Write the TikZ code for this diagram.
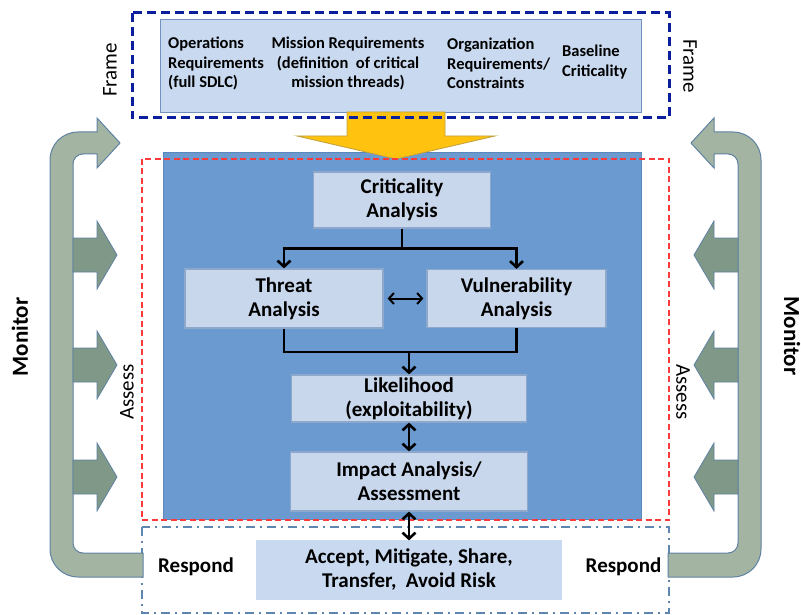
\documentclass[tikz,border=0pt]{standalone}
\usepackage{fontspec}
\setmainfont{Carlito}
\usetikzlibrary{arrows.meta}

\definecolor{corefill}{HTML}{6A9AD0}
\definecolor{coreline}{HTML}{5B87BC}
\definecolor{boxfill}{HTML}{C8D7EB}
\definecolor{boxline}{HTML}{8EA8CC}
\definecolor{reqfill}{HTML}{C9DAF0}
\definecolor{reqline}{HTML}{7391BE}
\definecolor{framedash}{HTML}{0A1E9E}
\definecolor{assessdash}{HTML}{FF3A3A}
\definecolor{responddash}{HTML}{5F86AE}
\definecolor{loopfill}{HTML}{A3B4A2}
\definecolor{loopline}{HTML}{5F82A2}
\definecolor{feedfill}{HTML}{7F9887}
\definecolor{gold}{HTML}{FFC20E}
\definecolor{goldline}{HTML}{C0A040}

\tikzset{
  monitorarrow/.pic={
    % big U-turn arrow
    \draw[fill=loopfill, draw=loopline, line width=1pt]
      (143,577) -- (78,577) .. controls (62.5,577) and (50,564.5) .. (50,549)
      -- (50,160) .. controls (50,144.5) and (62.5,132) .. (78,132)
      -- (97,132) -- (97,118) -- (120,143) -- (97,168) -- (97,154)
      -- (83,154) .. controls (77.5,154) and (73,158.5) .. (73,164)
      -- (73,543) .. controls (73,548.5) and (77.5,553) .. (83,553)
      -- (143,553) -- cycle;
    % feed arrows
    \foreach \c in {255,365,477}
      \draw[fill=feedfill, draw=loopline, line width=0.8pt]
        (73,\c-17) -- (97,\c-17) -- (97,\c-34) -- (117,\c)
        -- (97,\c+34) -- (97,\c+17) -- (73,\c+17) -- cycle;
  }
}

\begin{document}
\begin{tikzpicture}[x=1pt,y=-1pt,
  every node/.style={inner sep=0pt, text=black},
  stage/.style={draw=boxline, fill=boxfill, line width=1.2pt, align=center,
    font=\fontsize{21}{24}\selectfont\bfseries},
  req/.style={align=left, font=\fontsize{16.5}{19.5}\selectfont\bfseries},
  sidelabel/.style={font=\fontsize{21}{24}\selectfont},
  boldlabel/.style={font=\fontsize{21}{24}\selectfont\bfseries},
  flow/.style={line width=2.8pt, -{Straight Barb[length=6pt,width=13pt,line width=2.6pt]}},
  both/.style={line width=2.8pt, {Straight Barb[length=6pt,width=13pt,line width=2.6pt]}-{Straight Barb[length=6pt,width=13pt,line width=2.6pt]}},
  thin both/.style={line width=2pt, {Straight Barb[length=5pt,width=11pt,line width=2pt]}-{Straight Barb[length=5pt,width=11pt,line width=2pt]}}]
\useasboundingbox (0,0) rectangle (801,615);

% frame
\node[draw=reqline, fill=reqfill, line width=1pt, minimum width=481pt, minimum height=93pt] (reqbox) at (400.5,66.5) {};
\node[req, anchor=west] (ops) at (168,63.5) {Operations\\Requirements\\(full SDLC)};
\node[req, align=center] (mission) at (348,63.5) {Mission Requirements\\(definition\ \ of critical\\mission threads)};
\node[req, anchor=west] (org) at (447,63.5) {Organization\\Requirements/\\Constraints};
\node[req, anchor=west] (baseline) at (562,62) {Baseline\\Criticality};

% assess
\node[fill=corefill, draw=coreline, line width=0.8pt, minimum width=478pt, minimum height=367pt] (core) at (402,335.5) {};
\draw[fill=gold, draw=goldline, line width=0.8pt]
  (347,112) -- (445,112) -- (445,136) -- (495,136) -- (396,159) -- (297,136) -- (347,136) -- cycle;
\draw[framedash, line width=3pt, dash pattern=on 9pt off 5pt] (132,13) rectangle (669,118);
\draw[assessdash, line width=2pt, dash pattern=on 6pt off 3.5pt] (142,159) rectangle (669,520);
\draw[responddash, line width=2pt, dash pattern=on 9pt off 5pt on 2pt off 5pt] (142,527) rectangle (669,613);

\node[stage, minimum width=177pt, minimum height=56pt] (crit) at (402,200) {Criticality\\Analysis};
\node[stage, minimum width=198pt, minimum height=59pt] (threat) at (284,298.5) {Threat\\Analysis};
\node[stage, minimum width=179pt, minimum height=58pt] (vuln) at (516.5,298.5) {Vulnerability\\Analysis};
\node[stage, minimum width=235pt, minimum height=47pt] (lik) at (409,398.5) {Likelihood\\(exploitability)};
\node[stage, minimum width=237pt, minimum height=59pt] (impact) at (409,481.5) {Impact Analysis/\\Assessment};
\node[stage, draw=reqfill, fill=reqfill, minimum width=305pt, minimum height=58pt] (accept) at (409,570) {Accept, Mitigate, Share,\\Transfer,\ \ Avoid Risk};

\draw[line width=2.8pt] (crit.south) -- ++(0,20) coordinate (fork);
\draw[flow] (fork) -| (threat.north);
\draw[flow] (fork) -| (vuln.north);
\draw[thin both] ([xshift=4pt]threat.east) -- ([xshift=-3pt]vuln.west);
\coordinate (merge) at (409,352);
\draw[line width=2.8pt] (threat.south) |- (merge) -| (vuln.south);
\draw[flow] (merge) -- (lik.north);
\draw[both] (lik.south) -- (impact.north);
\draw[both] (impact.south) -- (accept.north);

% monitor
\pic at (0,0) {monitorarrow};
\pic[xscale=-1] at (811,0) {monitorarrow};

% labels
\node[sidelabel, rotate=90] (frameL) at (110,70) {Frame};
\node[sidelabel, rotate=-90] (frameR) at (690,66) {Frame};
\node[sidelabel, rotate=90] (assessL) at (127,392) {Assess};
\node[sidelabel, rotate=-90] (assessR) at (683,392) {Assess};
\node[boldlabel, font=\fontsize{23}{26}\selectfont\bfseries, rotate=90] (monitorL) at (20,337) {Monitor};
\node[boldlabel, font=\fontsize{23}{26}\selectfont\bfseries, rotate=-90] (monitorR) at (792,336) {Monitor};
\node[boldlabel] (respondL) at (196,567) {Respond};
\node[boldlabel] (respondR) at (623.5,567) {Respond};
\end{tikzpicture}
\end{document}
